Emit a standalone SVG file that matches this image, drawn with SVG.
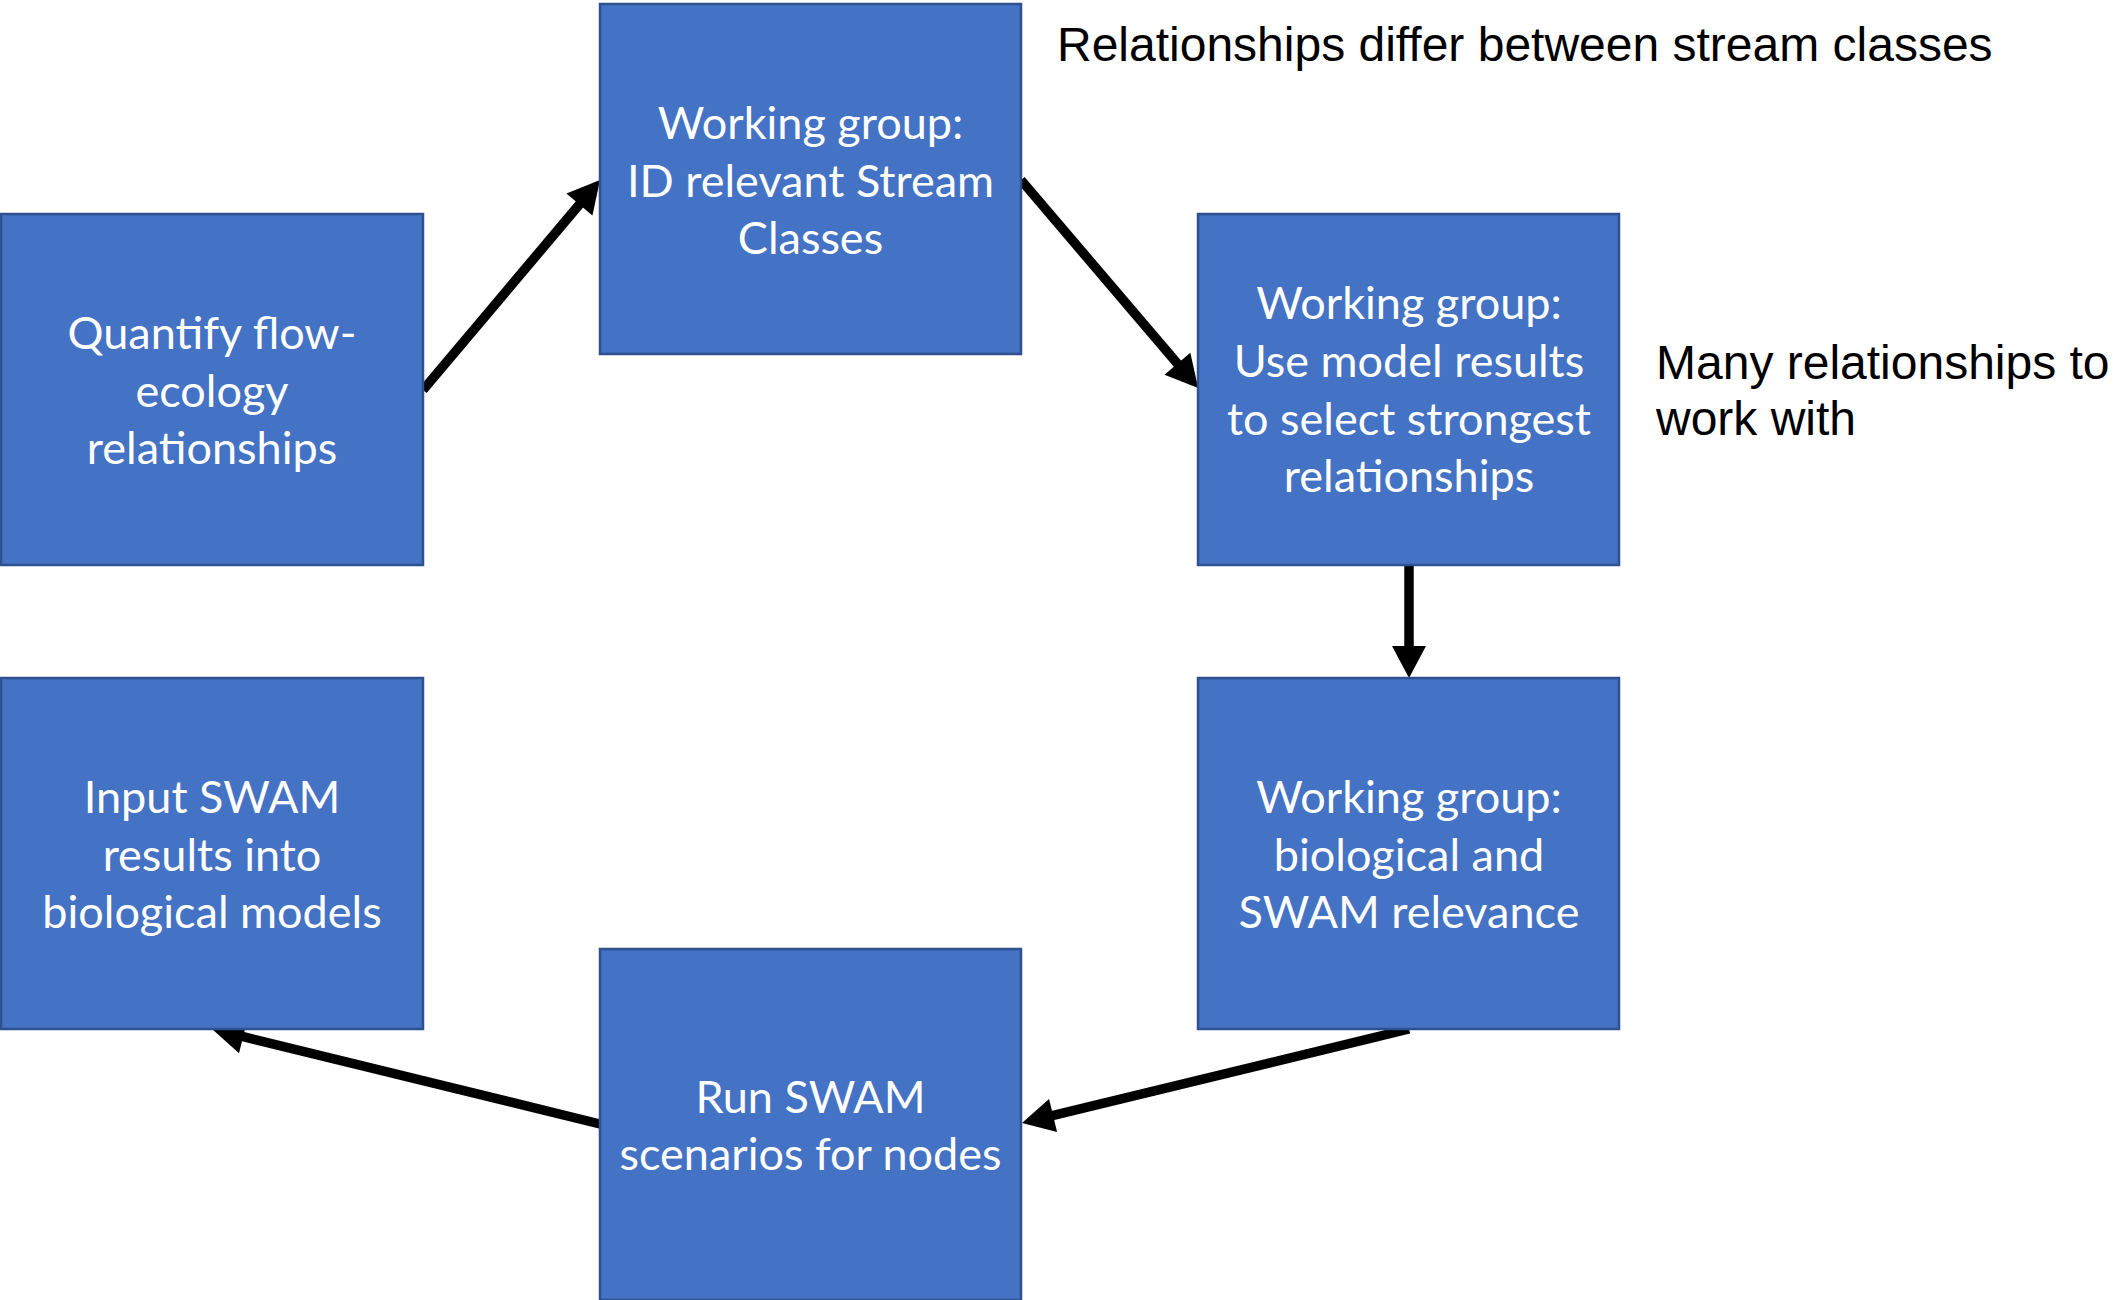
<svg xmlns="http://www.w3.org/2000/svg" width="2113" height="1300" viewBox="0 0 2113 1300">
  <style>
    .box { fill: #4472C4; stroke: #2F528F; stroke-width: 2.5; }
    .lbl { fill: #FFFFFF; font-family: Lato, "Open Sans", sans-serif; font-size: 45px; text-anchor: middle; }
    .note { fill: #000000; font-family: "Liberation Sans", Arial, sans-serif; font-size: 48px; }
    .conn { stroke: #000000; stroke-width: 9.5; fill: none; marker-end: url(#arrow); }
  </style>
  <defs>
    <marker id="arrow" markerUnits="userSpaceOnUse" markerWidth="34" markerHeight="34" refX="4" refY="17" orient="auto" overflow="visible">
      <path d="M0,0 L32,17 L0,34 Z" fill="#000000"/>
    </marker>
  </defs>
  <rect width="2113" height="1300" fill="#FFFFFF"/>

  <g id="connectors">
    <line class="conn" x1="423" y1="390" x2="582" y2="201.4"/>
    <line class="conn" x1="1021" y1="180" x2="1180" y2="366.7"/>
    <line class="conn" x1="1409" y1="565" x2="1409" y2="650"/>
    <line class="conn" x1="1409" y1="1029" x2="1049.2" y2="1116.4"/>
    <line class="conn" x1="600" y1="1124" x2="239.2" y2="1035.7"/>
  </g>

  <g id="node-quantify">
    <rect class="box" x="1" y="214" width="422" height="351"/>
    <text class="lbl" x="212" y="349">Quantify flow-</text>
    <text class="lbl" x="212" y="407">ecology</text>
    <text class="lbl" x="212" y="464">relationships</text>
  </g>

  <g id="node-stream-classes">
    <rect class="box" x="600" y="4" width="421" height="350"/>
    <text class="lbl" x="810.5" y="139">Working group:</text>
    <text class="lbl" x="810.5" y="197">ID relevant Stream</text>
    <text class="lbl" x="810.5" y="254">Classes</text>
  </g>

  <g id="node-select-relationships">
    <rect class="box" x="1198" y="214" width="421" height="351"/>
    <text class="lbl" x="1409" y="319">Working group:</text>
    <text class="lbl" x="1409" y="377">Use model results</text>
    <text class="lbl" x="1409" y="435">to select strongest</text>
    <text class="lbl" x="1409" y="492">relationships</text>
  </g>

  <g id="node-relevance">
    <rect class="box" x="1198" y="678" width="421" height="351"/>
    <text class="lbl" x="1409" y="813">Working group:</text>
    <text class="lbl" x="1409" y="871">biological and</text>
    <text class="lbl" x="1409" y="928">SWAM relevance</text>
  </g>

  <g id="node-run-swam">
    <rect class="box" x="600" y="949" width="421" height="351"/>
    <text class="lbl" x="810.5" y="1113">Run SWAM</text>
    <text class="lbl" x="810.5" y="1170">scenarios for nodes</text>
  </g>

  <g id="node-input-swam">
    <rect class="box" x="1" y="678" width="422" height="351"/>
    <text class="lbl" x="212" y="813">Input SWAM</text>
    <text class="lbl" x="212" y="871">results into</text>
    <text class="lbl" x="212" y="928">biological models</text>
  </g>

  <g id="notes">
    <text class="note" x="1057" y="61">Relationships differ between stream classes</text>
    <text class="note" x="1656" y="379">Many relationships to</text>
    <text class="note" x="1656" y="435">work with</text>
  </g>
</svg>
